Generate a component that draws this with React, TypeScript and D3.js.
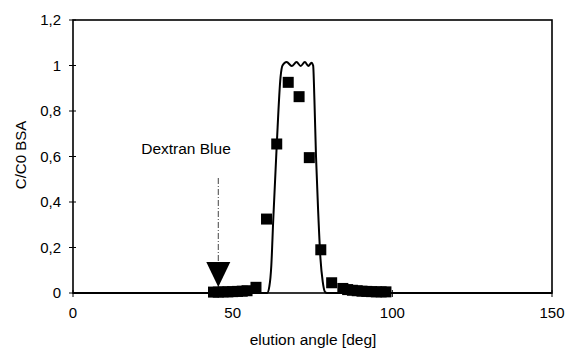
import React from 'react'
import * as d3 from 'd3'

// measured BSA concentration (squares)
const measuredX = [44, 45.5, 47, 48.5, 50, 51.5, 53, 54.5, 57.3, 60.6, 63.8, 67.4, 70.8, 74.0, 77.6, 81.0, 84.5, 86, 87.5, 89, 90.5, 92, 93.5, 95, 96.5, 98]
const measuredY = [0.004, 0.004, 0.005, 0.005, 0.006, 0.007, 0.008, 0.01, 0.025, 0.325, 0.655, 0.926, 0.863, 0.595, 0.19, 0.045, 0.02, 0.015, 0.012, 0.01, 0.008, 0.007, 0.006, 0.005, 0.005, 0.005]

// simulated profile (solid line)
const modelX = [0, 60.8, 61.5, 62.1, 62.7, 63.8, 65.0, 65.6, 66.9, 68.5, 70.0, 71.3, 72.6, 73.7, 74.7, 75.2, 75.6, 76.1, 76.8, 77.5, 78.2, 78.9, 79.5, 150]
const modelY = [0, 0, 0.03, 0.12, 0.32, 0.65, 0.95, 1.0, 1.015, 0.998, 1.015, 0.998, 1.015, 0.998, 1.012, 1.0, 0.85, 0.6, 0.35, 0.15, 0.05, 0.005, 0, 0]

const xTicks = [0, 50, 100, 150]
const yTicks = [0, 0.2, 0.4, 0.6, 0.8, 1, 1.2]
const yTickLabels = ['0', '0,2', '0,4', '0,6', '0,8', '1', '1,2']

const dextranX = 45.5

const W = 565
const H = 353
const FONT = '"Liberation Sans", Arial, sans-serif'

export default function App() {
  const x = d3.scaleLinear().domain([0, 150]).range([73, 552])
  const y = d3.scaleLinear().domain([0, 1.2]).range([293, 20])

  const line = d3.line<number>()
    .x((_, i) => x(modelX[i]))
    .y(d => y(d))
    .curve(d3.curveMonotoneX)

  const sq = 11
  const arrowTop = 178
  const triTop = 262
  const triBottom = 287

  return (
    <svg width={W} height={H} style={{ position: 'absolute', left: 0, top: 0, background: '#fff' }} fontFamily={FONT}>
      <rect x={0} y={0} width={W} height={H} fill="#fff" />
      {/* frame */}
      <rect x={x(0)} y={y(1.2)} width={x(150) - x(0)} height={y(0) - y(1.2)} fill="none" stroke="#000" strokeWidth={1.6} />

      {/* y ticks */}
      {yTicks.map((t, i) => (
        <g key={'y' + i}>
          <line x1={x(0) - 4} x2={x(0) + 3} y1={y(t)} y2={y(t)} stroke="#000" strokeWidth={1} />
          <text x={61} y={y(t)} dy="0.35em" textAnchor="end" fontSize={15}>{yTickLabels[i]}</text>
        </g>
      ))}

      {/* x ticks */}
      {xTicks.map((t, i) => (
        <g key={'x' + i}>
          <line x1={x(t)} x2={x(t)} y1={y(0) - 3} y2={y(0) + 4} stroke="#000" strokeWidth={1} />
          <text x={x(t)} y={318} textAnchor="middle" fontSize={15}>{t}</text>
        </g>
      ))}

      {/* axis titles */}
      <text x={313} y={345} textAnchor="middle" fontSize={15.5}>elution angle [deg]</text>
      <text transform={`translate(26,155) rotate(-90)`} textAnchor="middle" fontSize={15}>C/C0 BSA</text>

      {/* model line */}
      <path d={line(modelY) || ''} fill="none" stroke="#000" strokeWidth={2} />

      {/* measured squares */}
      {measuredY.map((v, i) => (
        <rect key={'m' + i} x={x(measuredX[i]) - sq / 2} y={y(v) - sq / 2} width={sq} height={sq} fill="#000" />
      ))}

      {/* Dextran Blue marker */}
      <text x={186} y={154} textAnchor="middle" fontSize={15.5}>Dextran Blue</text>
      <line x1={x(dextranX)} x2={x(dextranX)} y1={arrowTop} y2={triTop} stroke="#444" strokeWidth={1} strokeDasharray="6,2,1,2" />
      <path d={`M${x(dextranX) - 12},${triTop} L${x(dextranX) + 12},${triTop} L${x(dextranX)},${triBottom} Z`} fill="#000" />
    </svg>
  )
}
